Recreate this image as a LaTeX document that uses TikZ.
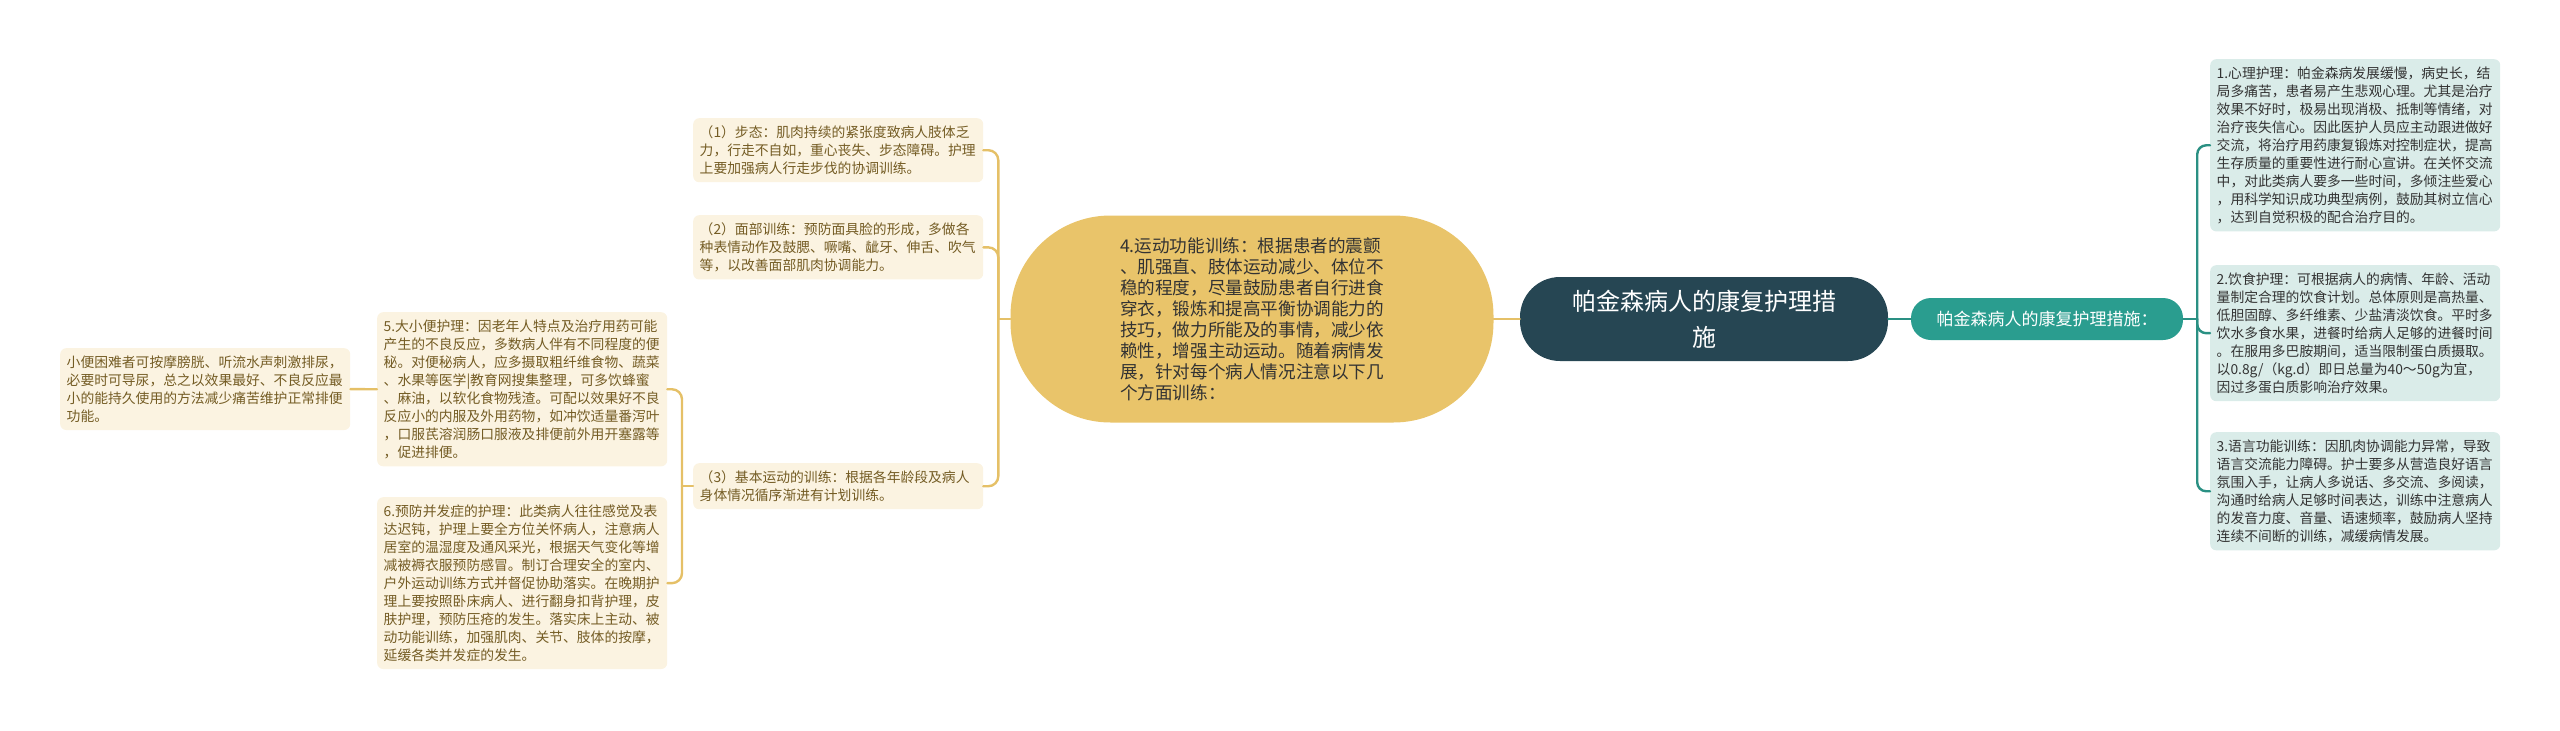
\documentclass[tikz,border=0pt]{standalone}
\usepackage{fontspec}
\newfontfamily\cjk{Noto Sans CJK SC}
\definecolor{rootblue}{HTML}{264653}
\definecolor{tealmid}{HTML}{2A9D8F}
\definecolor{goldmid}{HTML}{E9C46A}
\definecolor{tealpale}{HTML}{DAECE9}
\definecolor{goldpale}{HTML}{FBF3E1}
\definecolor{goldtext}{HTML}{745C24}
\definecolor{inktext}{HTML}{333333}
\definecolor{goldwire}{HTML}{E5C067}
\definecolor{tealwire}{HTML}{2A9083}
\begin{document}
\begin{tikzpicture}[x=1pt,y=-1pt,
	leafbox/.style={anchor=north west,text width=277pt,inner xsep=6.5pt,inner ysep=7.5pt,rounded corners=6pt,align=left,font=\cjk\fontsize{13.8}{18}\selectfont},
	goldbox/.style={leafbox,fill=goldpale,text=goldtext},
	tealbox/.style={leafbox,fill=tealpale,text=inktext},
	goldlink/.style={draw=goldwire,line width=2.4pt,line cap=round},
	teallink/.style={draw=tealwire,line width=2.4pt,line cap=round}]
	\useasboundingbox (0,0) rectangle (2560,731);
	\node[fill=rootblue,text=white,rounded corners=40pt,minimum width=368pt,minimum height=84pt,align=center,font=\cjk\fontsize{24}{36}\selectfont] (rootnode) at (1704,319) {帕金森病人的康复护理措\\施};
	\node[fill=tealmid,text=white,rounded corners=20pt,minimum width=272pt,minimum height=42pt,font=\cjk\fontsize{17}{20}\selectfont] (leadnode) at (2047,319) {帕金森病人的康复护理措施：};
	\node[fill=goldmid,text=inktext,rounded corners=100pt,minimum width=483pt,minimum height=207pt,align=left,font=\cjk\fontsize{17.6}{21}\selectfont] (motornode) at (1252,319) {4.运动功能训练：根据患者的震颤\\、肌强直、肢体运动减少、体位不\\稳的程度，尽量鼓励患者自行进食\\穿衣，锻炼和提高平衡协调能力的\\技巧，做力所能及的事情，减少依\\赖性，增强主动运动。随着病情发\\展，针对每个病人情况注意以下几\\个方面训练：};
	\node[tealbox] (psynode) at (2210,59) {1.心理护理：帕金森病发展缓慢，病史长，结\\局多痛苦，患者易产生悲观心理。尤其是治疗\\效果不好时，极易出现消极、抵制等情绪，对\\治疗丧失信心。因此医护人员应主动跟进做好\\交流，将治疗用药康复锻炼对控制症状，提高\\生存质量的重要性进行耐心宣讲。在关怀交流\\中，对此类病人要多一些时间，多倾注些爱心\\，用科学知识成功典型病例，鼓励其树立信心\\，达到自觉积极的配合治疗目的。};
	\node[tealbox] (dietnode) at (2210,265) {2.饮食护理：可根据病人的病情、年龄、活动\\量制定合理的饮食计划。总体原则是高热量、\\低胆固醇、多纤维素、少盐清淡饮食。平时多\\饮水多食水果，进餐时给病人足够的进餐时间\\。在服用多巴胺期间，适当限制蛋白质摄取。\\以0.8g/（kg.d）即日总量为40～50g为宜，\\因过多蛋白质影响治疗效果。};
	\node[tealbox] (speechnode) at (2210,432) {3.语言功能训练：因肌肉协调能力异常，导致\\语言交流能力障碍。护士要多从营造良好语言\\氛围入手，让病人多说话、多交流、多阅读，\\沟通时给病人足够时间表达，训练中注意病人\\的发音力度、音量、语速频率，鼓励病人坚持\\连续不间断的训练，减缓病情发展。};
	\node[goldbox] (gaitnode) at (693,118) {（1）步态：肌肉持续的紧张度致病人肢体乏\\力，行走不自如，重心丧失、步态障碍。护理\\上要加强病人行走步伐的协调训练。};
	\node[goldbox] (facenode) at (693,215) {（2）面部训练：预防面具脸的形成，多做各\\种表情动作及鼓腮、噘嘴、龇牙、伸舌、吹气\\等，以改善面部肌肉协调能力。};
	\node[goldbox] (basicnode) at (693,463) {（3）基本运动的训练：根据各年龄段及病人\\身体情况循序渐进有计划训练。};
	\node[goldbox] (excretnode) at (377,312) {5.大小便护理：因老年人特点及治疗用药可能\\产生的不良反应，多数病人伴有不同程度的便\\秘。对便秘病人，应多摄取粗纤维食物、蔬菜\\、水果等医学|教育网搜集整理，可多饮蜂蜜\\、麻油，以软化食物残渣。可配以效果好不良\\反应小的内服及外用药物，如冲饮适量番泻叶\\，口服芪溶润肠口服液及排便前外用开塞露等\\，促进排便。};
	\node[goldbox] (compnode) at (377,497) {6.预防并发症的护理：此类病人往往感觉及表\\达迟钝，护理上要全方位关怀病人，注意病人\\居室的温湿度及通风采光，根据天气变化等增\\减被褥衣服预防感冒。制订合理安全的室内、\\户外运动训练方式并督促协助落实。在晚期护\\理上要按照卧床病人、进行翻身扣背护理，皮\\肤护理，预防压疮的发生。落实床上主动、被\\动功能训练，加强肌肉、关节、肢体的按摩，\\延缓各类并发症的发生。};
	\node[goldbox] (urinenode) at (60,348) {小便困难者可按摩膀胱、听流水声刺激排尿，\\必要时可导尿，总之以效果最好、不良反应最\\小的能持久使用的方法减少痛苦维护正常排便\\功能。};
	\draw[teallink] (rootnode.east) -- (leadnode.west);
	\draw[teallink] (leadnode.east) -- ++(14,0) coordinate (tealfork);
	\foreach \n in {psynode,dietnode,speechnode}
		\draw[teallink,rounded corners=9pt] (tealfork) |- (\n.west);
	\draw[goldlink] (rootnode.west) -- (motornode.east);
	\draw[goldlink] (motornode.west) -- ++(-12,0) coordinate (goldfork);
	\foreach \n in {gaitnode,facenode,basicnode}
		\draw[goldlink,rounded corners=10pt] (goldfork) |- (\n.east);
	\draw[goldlink] (basicnode.west) -- ++(-11,0) coordinate (basicfork);
	\foreach \n in {excretnode,compnode}
		\draw[goldlink,rounded corners=10pt] (basicfork) |- (\n.east);
	\draw[goldlink] (excretnode.west) -- (urinenode.east);
\end{tikzpicture}
\end{document}
